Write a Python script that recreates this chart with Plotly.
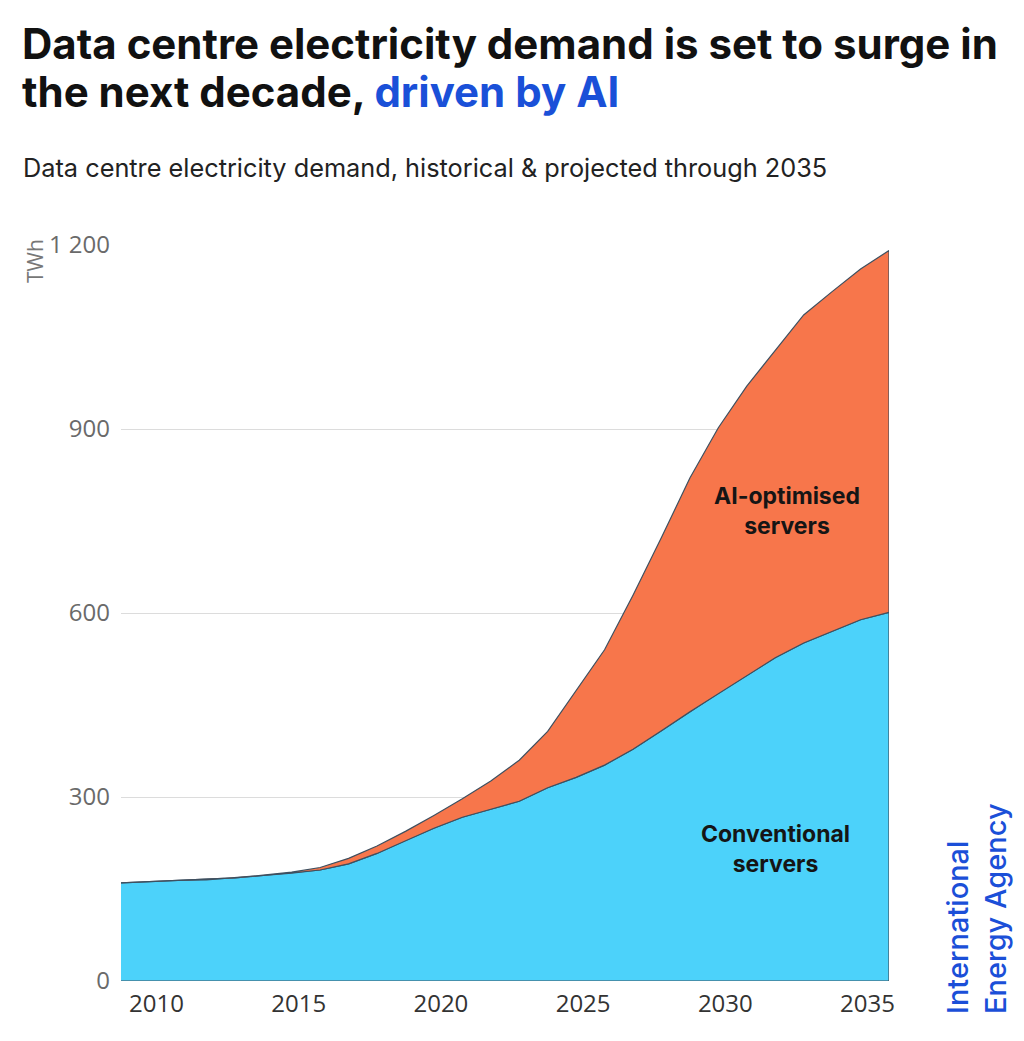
import plotly.graph_objects as go

# Data centre electricity demand (TWh)
years = list(range(2009, 2037))
conventional = [160, 162, 164, 165, 168, 172, 176, 181, 191, 208, 229, 249, 267, 280,
                293, 315, 332, 352, 378, 408, 439, 469, 498, 527, 551, 570, 589, 601]
ai_optimised = [0, 0, 0, 0, 0, 0.5, 1.5, 4, 9, 12, 15, 21, 30, 46,
                67, 92, 142, 188, 251, 315, 381, 433, 472, 501, 535, 554, 572, 590]

y_ticks = [0, 300, 600, 900, 1200]
y_labels = ["0", "300", "600", "900", "1 200"]
x_ticks = [2010, 2015, 2020, 2025, 2030, 2035]

BLUE = "#4cd2fa"
ORANGE = "#f7764b"
EDGE = "#3e5060"

total = [c + a for c, a in zip(conventional, ai_optimised)]

# closed polygons so every side of each band gets the dark outline
conv_x = years + years[::-1]
conv_y = conventional + [0] * len(years)
ai_x = years + years[::-1]
ai_y = total + conventional[::-1]

fig = go.Figure()
fig.add_trace(go.Scatter(x=conv_x, y=conv_y, fill="toself", fillcolor=BLUE,
                         mode="lines", line=dict(color=EDGE, width=1.2),
                         name="Conventional servers", hoverinfo="skip"))
fig.add_trace(go.Scatter(x=ai_x, y=ai_y, fill="toself", fillcolor=ORANGE,
                         mode="lines", line=dict(color=EDGE, width=1.2),
                         name="AI-optimised servers", hoverinfo="skip"))

# page has an 8px body margin, so the plot box is shifted back by that
fig.update_layout(
    width=1024, height=1041,
    margin=dict(l=113, r=143, t=237, b=68),
    paper_bgcolor="white", plot_bgcolor="white",
    showlegend=False,
    font=dict(family="Inter", color="#555"),
)

fig.update_xaxes(range=[2009, 2036], tickvals=x_ticks, showgrid=False,
                 zeroline=False, showline=False, ticks="",
                 ticklabelstandoff=6, ticklabelshift=7,
                 tickfont=dict(family="Open Sans", size=24, color="#333"))
fig.update_yaxes(range=[0, 1200], tickvals=y_ticks, ticktext=y_labels,
                 showgrid=True, gridcolor="#dcdcdc", gridwidth=1,
                 zeroline=False, showline=False, ticks="",
                 ticklabelstandoff=10,
                 tickfont=dict(family="Open Sans", size=24, color="#6a6a6a"))


def px_x(p):
    return (p - 121) / 768


def px_y(p):
    return (981 - p) / 736


# title, one annotation per line to keep the tight leading
fig.add_annotation(
    text="<b>Data centre electricity demand is set to surge in</b>",
    xref="paper", yref="paper", x=px_x(20), y=px_y(16),
    xanchor="left", yanchor="top", showarrow=False,
    font=dict(family="Inter", size=42, color="#111"))
fig.add_annotation(
    text="<b>the next decade, <span style='color:#1a50d8'>driven by AI</span></b>",
    xref="paper", yref="paper", x=px_x(20), y=px_y(64),
    xanchor="left", yanchor="top", showarrow=False,
    font=dict(family="Inter", size=42, color="#111"))
# subtitle
fig.add_annotation(text="Data centre electricity demand, historical & projected through 2035",
                   xref="paper", yref="paper", x=px_x(21), y=px_y(167),
                   xanchor="left", yanchor="middle", showarrow=False,
                   font=dict(size=25.3, color="#222"))
# unit
fig.add_annotation(text="TWh", textangle=-90, xref="paper", yref="paper",
                   x=px_x(35), y=px_y(237), xanchor="center", yanchor="top",
                   showarrow=False, font=dict(family="Open Sans", size=21, color="#777"))
# band labels
fig.add_annotation(text="<b>AI-optimised<br>servers</b>", x=2032.4, y=766,
                   showarrow=False, font=dict(size=23, color="#151515"))
fig.add_annotation(text="<b>Conventional<br>servers</b>", x=2032.0, y=216,
                   showarrow=False, font=dict(size=23, color="#151515"))
# IEA wordmark
fig.add_annotation(text="International<br>Energy Agency", textangle=-90, align="left",
                   xref="paper", yref="paper", x=px_x(1015), y=px_y(1016),
                   xanchor="right", yanchor="bottom", showarrow=False,
                   font=dict(size=29, color="#1b4fd8", weight=500))

fig.write_html("out.html")
